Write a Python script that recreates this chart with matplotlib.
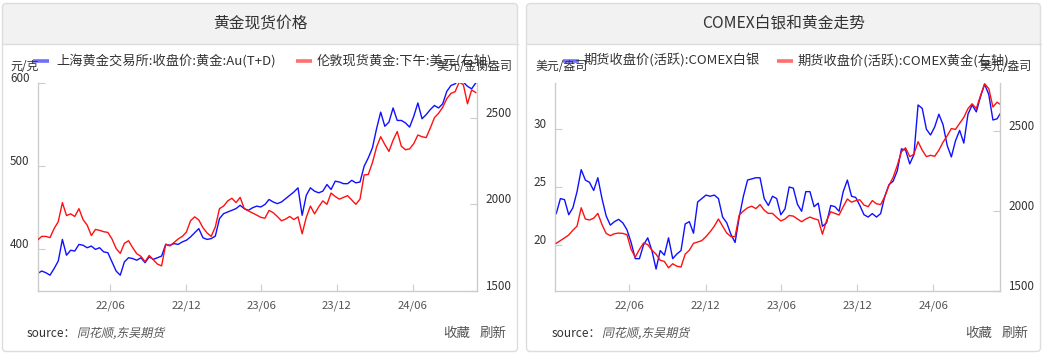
import pandas as pd
import matplotlib
matplotlib.use("Agg")
import matplotlib.pyplot as plt
from matplotlib.patches import FancyBboxPatch, Rectangle, PathPatch
from matplotlib.textpath import TextPath
from matplotlib.font_manager import FontProperties
from matplotlib.transforms import Affine2D, ScaledTranslation

plt.rcParams['font.family'] = ['Noto Sans CJK SC', 'DejaVu Sans']

W, H, DPI = 1046, 355, 100

# ---- data (one value every 10 days from 2021-12-07) ----
start_date = "2021-12-07"

# left chart: SGE Au(T+D) close, 元/克
sge_au = [371, 374, 372, 369, 377, 386, 412, 393, 399, 398,
          406, 405, 402, 404, 400, 402, 397, 396, 385, 374,
          369, 385, 390, 389, 387, 390, 384, 391, 388, 390,
          392, 406, 405, 407, 406, 409, 411, 415, 420, 425,
          414, 412, 413, 416, 437, 443, 445, 447, 449, 453,
          449, 447, 450, 452, 451, 454, 460, 457, 455, 457,
          461, 465, 469, 474, 441, 465, 474, 470, 468, 470,
          478, 472, 482, 481, 479, 479, 483, 480, 481, 500,
          510, 522, 545, 565, 548, 553, 570, 555, 555, 552,
          547, 560, 576, 557, 562, 568, 573, 570, 575, 590,
          597, 599, 604, 601, 596, 593, 600]
# left chart: London PM fix, 美元/金衡盎司 (right axis)
london_pm = [1794, 1815, 1815, 1808, 1860, 1900, 2010, 1935, 1945, 1930,
             1975, 1912, 1880, 1820, 1855, 1850, 1842, 1838, 1800, 1745,
             1717, 1775, 1790, 1750, 1715, 1700, 1669, 1705, 1680, 1655,
             1645, 1770, 1760, 1780, 1800, 1815, 1840, 1905, 1928, 1910,
             1865, 1835, 1815, 1870, 1975, 1990, 2020, 2035, 2010, 2040,
             1975, 1962, 1950, 1938, 1925, 1920, 1965, 1952, 1930, 1905,
             1915, 1930, 1912, 1928, 1830, 1925, 1990, 1945, 1985, 2020,
             2000, 2065, 2045, 2030, 2040, 2050, 2025, 2000, 2030, 2170,
             2172, 2240, 2330, 2390, 2345, 2305, 2370, 2420, 2335, 2315,
             2320, 2350, 2400, 2390, 2385, 2440, 2500, 2525, 2560, 2610,
             2640, 2650, 2705, 2690, 2580, 2660, 2645]

# right chart: COMEX silver, 美元/盎司
comex_silver = [22.7, 24.0, 23.9, 22.6, 23.2, 24.6, 26.5, 25.6, 25.4, 24.7,
                25.8, 24.0, 22.5, 21.7, 22.0, 22.2, 21.9, 21.3, 20.2, 18.8,
                18.8, 20.0, 20.6, 19.5, 17.9, 19.5, 19.1, 20.6, 18.8, 19.2,
                19.5, 21.8, 22.0, 21.0, 23.7, 24.0, 24.3, 24.2, 24.3, 24.0,
                22.4, 21.9, 20.9, 20.2, 22.4, 24.2, 25.6, 25.7, 25.8, 25.8,
                24.0, 23.4, 24.2, 24.0, 22.6, 23.1, 25.0, 24.9, 23.5, 22.9,
                24.6, 24.6, 23.3, 23.6, 21.6, 21.9, 23.4, 23.3, 22.9, 24.6,
                25.6, 24.2, 24.1, 23.4, 22.6, 22.4, 22.7, 22.4, 22.7, 24.2,
                25.2, 25.5, 26.4, 28.3, 28.2, 27.0, 27.8, 32.1, 31.8, 30.0,
                29.5, 30.2, 31.3, 30.4, 28.6, 27.6, 29.0, 29.9, 28.8, 31.3,
                32.1, 31.5, 32.8, 33.9, 33.0, 30.8, 30.9, 31.5]
# right chart: COMEX gold, 美元/盎司 (right axis)
comex_gold = [1798, 1815, 1832, 1850, 1880, 1905, 2020, 1950, 1944, 1955,
              1985, 1915, 1860, 1846, 1858, 1862, 1860, 1852, 1760, 1712,
              1760, 1800, 1790, 1755, 1730, 1692, 1685, 1645, 1670, 1655,
              1650, 1730, 1755, 1798, 1806, 1815, 1840, 1870, 1905, 1950,
              1905, 1862, 1840, 1840, 1975, 2000, 2020, 2030, 2015, 2040,
              2005, 1985, 1985, 1960, 1938, 1950, 1972, 1968, 1950, 1933,
              1950, 1962, 1952, 1944, 1855, 1940, 1995, 1985, 1975, 2027,
              2075, 2055, 2065, 2070, 2037, 2027, 2065, 2045, 2040, 2090,
              2160, 2210, 2285, 2370, 2395, 2340, 2355, 2433, 2380, 2340,
              2348, 2342, 2380, 2430, 2470, 2515, 2510, 2548, 2585, 2640,
              2670, 2640, 2720, 2795, 2765, 2650, 2680, 2662]

tick_dates = ["2022-06-01", "2022-12-01", "2023-06-01", "2023-12-01", "2024-06-01"]
tick_labels = ["22/06", "22/12", "23/06", "23/12", "24/06"]

titles = ["黄金现货价格", "COMEX白银和黄金走势"]
legend_left = ["上海黄金交易所:收盘价:黄金:Au(T+D)", "伦敦现货黄金:下午:美元(右轴)"]
legend_right = ["期货收盘价(活跃):COMEX白银", "期货收盘价(活跃):COMEX黄金(右轴)"]

fig = plt.figure(figsize=(W / DPI, H / DPI), dpi=DPI)
fig.patch.set_facecolor("white")

# background layer in pixel coordinates for cards, titles, legends, footers
bg = fig.add_axes([0, 0, 1, 1])
bg.set_xlim(0, W)
bg.set_ylim(H, 0)
bg.axis("off")


def card(x0, x1, title):
    y0, y1 = 3.5, 351.5
    bg.add_patch(FancyBboxPatch((x0, y0), x1 - x0, 40, boxstyle="round,pad=0,rounding_size=4",
                                fc="#f2f2f2", ec="none"))
    bg.add_patch(Rectangle((x0, y0 + 20), x1 - x0, 20, fc="#f2f2f2", ec="none"))
    bg.plot([x0, x1], [43.5, 43.5], color="#dddddd", lw=1)
    bg.add_patch(FancyBboxPatch((x0, y0), x1 - x0, y1 - y0, boxstyle="round,pad=0,rounding_size=4",
                                fc="none", ec="#dddddd", lw=1))
    bg.text((x0 + x1) / 2, 24, title, ha="center", va="center", fontsize=11.3, color="#333333")


def legend_item(xs, x_text, label, color):
    bg.plot(xs, [61, 61], color=color, lw=2.6, solid_capstyle="butt")
    bg.text(x_text, 61, label, ha="left", va="center", fontsize=9.5, color="#333333")


def italic(x, y, s, size, color):
    tp = TextPath((0, 0), s, size=size, prop=FontProperties(family="Noto Sans CJK SC"))
    tr = Affine2D().skew_deg(12, 0).scale(1, -1).translate(x, y)
    bg.add_patch(PathPatch(tp, transform=tr + bg.transData, fc=color, ec="none", lw=0))


def footer(x_src, x_fav, x_ref):
    bg.text(x_src, 337, "source：", ha="left", va="baseline", fontsize=8.6, color="#333333")
    italic(x_src + 50, 337, "同花顺,东吴期货", 12, "#555555")
    bg.text(x_fav, 337, "收藏", ha="left", va="baseline", fontsize=9.7, color="#555555")
    bg.text(x_ref, 337, "刷新", ha="left", va="baseline", fontsize=9.7, color="#555555")


def plot_axes(x0, x1, y0=83, y1=291):
    return fig.add_axes([x0 / W, 1 - y1 / H, (x1 - x0) / W, (y1 - y0) / H])


label_up = ScaledTranslation(0, 6 / DPI, fig.dpi_scale_trans)


def style(ax, ax2, xlim, ylim1, yt1, ylim2, yt2):
    ax.set_xlim(pd.to_datetime(xlim[0]), pd.to_datetime(xlim[1]))
    ax.set_ylim(*ylim1)
    ax.set_yticks(yt1)
    ax2.set_ylim(*ylim2)
    ax2.set_yticks(yt2)
    ax.set_xticks(pd.to_datetime(tick_dates))
    ax.set_xticklabels(tick_labels)
    ax.patch.set_alpha(0)
    for a in (ax, ax2):
        for side in ("top", "right", "left", "bottom"):
            a.spines[side].set_visible(False)
    ax.spines["left"].set_visible(True)
    ax.spines["bottom"].set_visible(True)
    ax2.spines["right"].set_visible(True)
    for sp in (ax.spines["left"], ax.spines["bottom"], ax2.spines["right"]):
        sp.set_color("#cccccc")
        sp.set_linewidth(1)
    ax.tick_params(axis="x", direction="in", length=5, color="#cccccc", labelsize=8.2,
                   labelcolor="#555555", pad=7)
    ax.tick_params(axis="y", direction="in", length=5, color="#cccccc", labelsize=8.4,
                   labelcolor="#333333", pad=6)
    ax2.tick_params(axis="y", direction="in", length=5, color="#cccccc", labelsize=8.4,
                    labelcolor="#333333", pad=6)
    for lab in ax.get_yticklabels() + ax2.get_yticklabels():
        lab.set_transform(lab.get_transform() + label_up)


# ---------------- left card ----------------
card(2.5, 517.5, titles[0])
bg.text(10, 67, "元/克", ha="left", va="center", fontsize=8.6, color="#333333")
bg.text(512, 67, "美元/金衡盎司", ha="right", va="center", fontsize=8.6, color="#333333")
legend_item([33, 49], 56, legend_left[0], "#6f6fff")
legend_item([296, 312], 317, legend_left[1], "#ff6f6f")
footer(27, 443, 480)

axL = plot_axes(38, 477)
axL2 = axL.twinx()
dates_l = pd.date_range(start_date, periods=len(sge_au), freq="10D")
axL.plot(dates_l, sge_au, color="#1010ff", lw=1.0)
axL2.plot(dates_l, london_pm, color="#ff1010", lw=1.0)
style(axL, axL2, ("2021-12-08", "2024-11-04"), (350, 600), [400, 500, 600],
      (1500, 2700), [1500, 2000, 2500])

# ---------------- right card ----------------
card(526.5, 1040.5, titles[1])
bg.text(535, 67, "美元/盎司", ha="left", va="center", fontsize=8.6, color="#333333")
bg.text(1032, 67, "美元/盎司", ha="right", va="center", fontsize=8.6, color="#333333")
legend_item([563, 579], 584, legend_right[0], "#6f6fff")
legend_item([777, 793], 798, legend_right[1], "#ff6f6f")
footer(552, 965, 1002)

axR = plot_axes(555, 1000)
axR2 = axR.twinx()
dates_r = pd.date_range(start_date, periods=len(comex_silver), freq="10D")
axR.plot(dates_r, comex_silver, color="#1010ff", lw=1.0)
axR2.plot(dates_r, comex_gold, color="#ff1010", lw=1.0)
style(axR, axR2, ("2021-12-04", "2024-11-08"), (16, 34), [20, 25, 30],
      (1500, 2800), [1500, 2000, 2500])

fig.savefig("out.png", dpi=DPI)
